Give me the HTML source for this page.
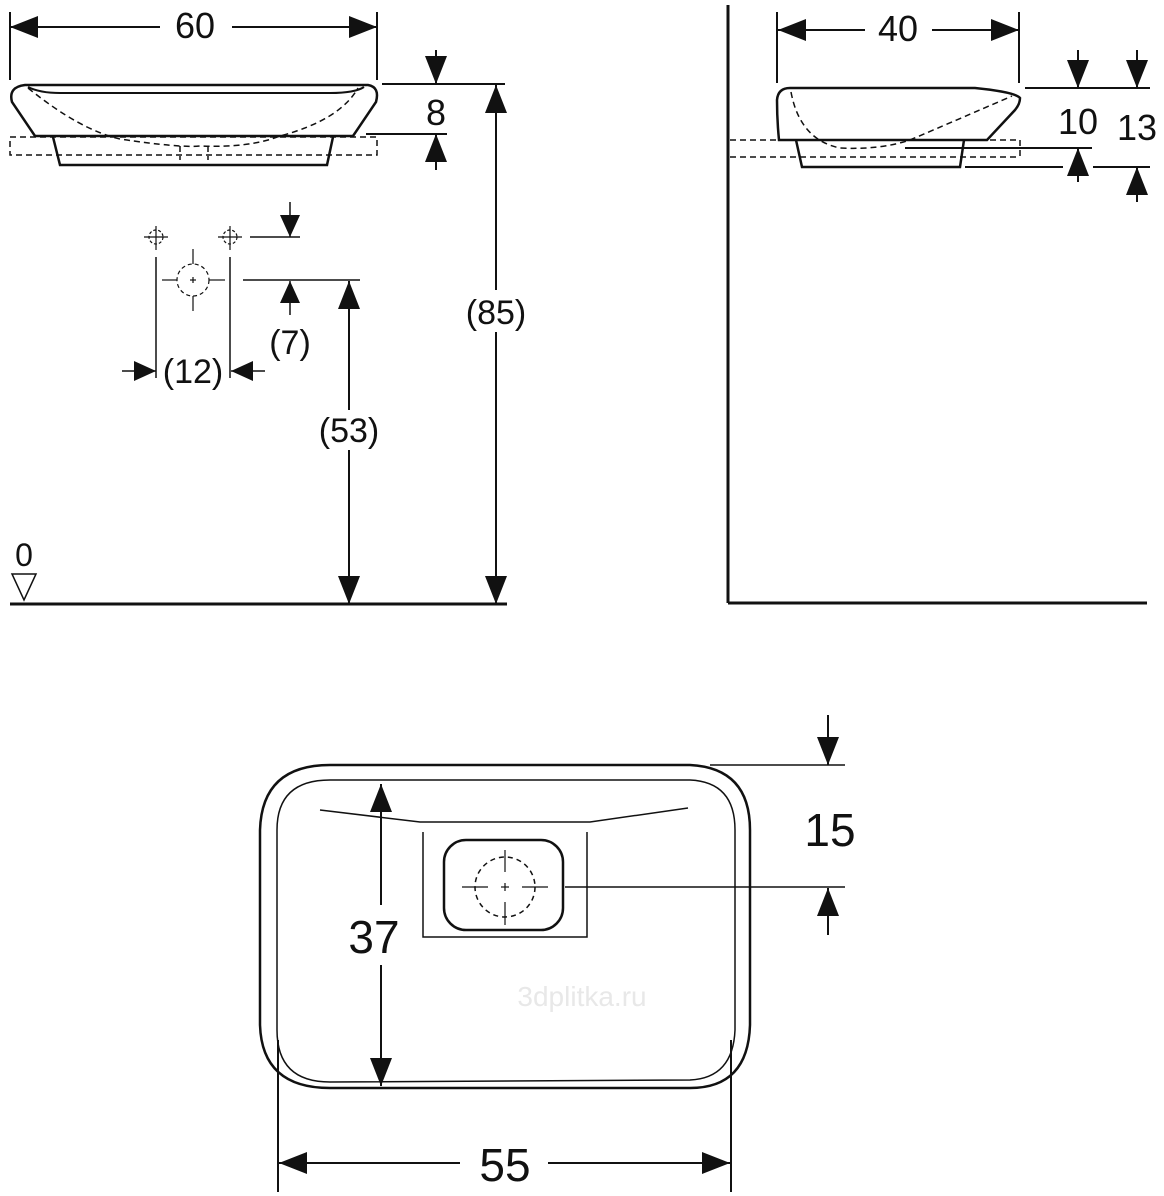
<!DOCTYPE html>
<html><head><style>body{margin:0;background:#fff}svg{display:block}text{font-family:"Liberation Sans",sans-serif;fill:#111}</style></head><body>
<svg width="1164" height="1196" viewBox="0 0 1164 1196" xmlns="http://www.w3.org/2000/svg">
<defs>
<marker id="A" viewBox="0 0 10 10" refX="10" refY="5" markerWidth="28" markerHeight="22" markerUnits="userSpaceOnUse" orient="auto" preserveAspectRatio="none"><path d="M0,0 L10,5 L0,10 z" fill="#111"/></marker>
<marker id="B" viewBox="0 0 10 10" refX="10" refY="5" markerWidth="22" markerHeight="20" markerUnits="userSpaceOnUse" orient="auto" preserveAspectRatio="none"><path d="M0,0 L10,5 L0,10 z" fill="#111"/></marker>
</defs>
<g stroke="#111" stroke-width="2" fill="none">
<line x1="10" y1="12" x2="10" y2="80"/><line x1="377" y1="12" x2="377" y2="80"/>
<line x1="38" y1="27" x2="10" y2="27" marker-end="url(#A)"/><line x1="350" y1="27" x2="377" y2="27" marker-end="url(#A)"/>
<line x1="232" y1="27" x2="350" y2="27"/><line x1="38" y1="27" x2="160" y2="27"/>
<path d="M25,85 L368,85 Q380,87 376,102 L353,136 L35,136 L12,102 Q8,87 25,85 z" stroke-width="2.5"/>
<path d="M28,87 Q40,93 60,93 L330,93 Q355,93 364,87"/>
<path d="M53,137 L60,165 L327,165 L333,137" stroke-width="2.5"/>
<g stroke-dasharray="6,4" stroke-width="1.5">
<rect x="10" y="137" width="367" height="18"/>
<path d="M28,88 Q80,130 120,139 Q180,148 200,146 Q250,148 280,136 Q340,120 358,88"/>
<line x1="180" y1="146" x2="180" y2="160"/><line x1="208" y1="146" x2="208" y2="160"/>
</g>
<line x1="382" y1="84" x2="505" y2="84"/><line x1="366" y1="134" x2="447" y2="134"/>
<line x1="436" y1="50" x2="436" y2="84" marker-end="url(#A)"/>
<line x1="436" y1="170" x2="436" y2="134" marker-end="url(#A)"/>
<line x1="496" y1="290" x2="496" y2="85" marker-end="url(#A)"/>
<line x1="496" y1="332" x2="496" y2="604" marker-end="url(#A)"/>
<line x1="10" y1="604" x2="507" y2="604" stroke-width="3"/>
<path d="M12,574 L36,574 L24,600 z" stroke-width="1.5"/>
<g stroke-width="1.2">
<line x1="144" y1="237" x2="168" y2="237"/><line x1="156" y1="226" x2="156" y2="250"/>
<line x1="218" y1="237" x2="242" y2="237"/><line x1="230" y1="226" x2="230" y2="250"/>
<circle cx="156" cy="237" r="7" stroke-dasharray="3,2"/><circle cx="230" cy="237" r="7" stroke-dasharray="3,2"/>
<circle cx="193" cy="280" r="16" stroke-dasharray="4,3"/>
<line x1="162" y1="280" x2="177" y2="280"/><line x1="209" y1="280" x2="225" y2="280"/>
<line x1="193" y1="249" x2="193" y2="264"/><line x1="193" y1="296" x2="193" y2="311"/>
<line x1="190" y1="280" x2="196" y2="280"/><line x1="193" y1="277" x2="193" y2="283"/>
</g>
<line x1="156" y1="257" x2="156" y2="378" stroke-width="1.5"/><line x1="230" y1="257" x2="230" y2="378" stroke-width="1.5"/>
<line x1="122" y1="371" x2="156" y2="371" marker-end="url(#B)" stroke-width="1.5"/>
<line x1="265" y1="371" x2="231" y2="371" marker-end="url(#B)" stroke-width="1.5"/>
<line x1="250" y1="237" x2="300" y2="237" stroke-width="1.5"/>
<line x1="243" y1="280" x2="360" y2="280" stroke-width="1.5"/>
<line x1="290" y1="202" x2="290" y2="237" marker-end="url(#B)" stroke-width="1.5"/>
<line x1="290" y1="315" x2="290" y2="281" marker-end="url(#B)" stroke-width="1.5"/>
<line x1="349" y1="410" x2="349" y2="281" marker-end="url(#A)"/>
<line x1="349" y1="450" x2="349" y2="604" marker-end="url(#A)"/>
<line x1="728" y1="5" x2="728" y2="603" stroke-width="3"/><line x1="728" y1="603" x2="1147" y2="603" stroke-width="3"/>
<line x1="777" y1="12" x2="777" y2="83"/><line x1="1019" y1="12" x2="1019" y2="83"/>
<line x1="805" y1="30" x2="778" y2="30" marker-end="url(#A)"/><line x1="992" y1="30" x2="1019" y2="30" marker-end="url(#A)"/>
<line x1="805" y1="30" x2="865" y2="30"/><line x1="932" y1="30" x2="992" y2="30"/>
<path d="M790,88 L975,88 Q1015,92 1020,98 Q1020,104 1015,110 L987,140 L779,140 Q777,120 777,100 Q778,88 790,88 z" stroke-width="2.5"/>
<path d="M796,140 L802,167 L960,167 L964,140" stroke-width="2.5"/>
<g stroke-dasharray="6,4" stroke-width="1.5">
<line x1="730" y1="140" x2="1020" y2="140"/><line x1="730" y1="157" x2="1020" y2="157"/><line x1="1020" y1="140" x2="1020" y2="157"/>
<path d="M791,92 Q800,140 840,148 Q880,150 910,140 Q980,110 1012,96"/>
</g>
<line x1="1025" y1="88" x2="1150" y2="88"/>
<line x1="905" y1="148" x2="1092" y2="148"/>
<line x1="965" y1="167" x2="1063" y2="167"/><line x1="1093" y1="167" x2="1150" y2="167"/>
<line x1="1078" y1="50" x2="1078" y2="88" marker-end="url(#A)"/>
<line x1="1137" y1="50" x2="1137" y2="88" marker-end="url(#A)"/>
<line x1="1078" y1="182" x2="1078" y2="148" marker-end="url(#A)"/>
<line x1="1137" y1="202" x2="1137" y2="167" marker-end="url(#A)"/>
<path d="M330,765 L690,765 Q750,768 750,830 L750,1025 Q748,1088 690,1088 L330,1088 Q262,1088 260,1025 L260,830 Q262,765 330,765 z" stroke-width="2.5"/>
<path d="M330,780 L690,780 Q735,782 735,830 L735,1030 Q733,1078 690,1080 L330,1082 Q277,1082 277,1030 L277,830 Q277,780 330,780 z" stroke-width="1.5"/>
<path d="M320,810 L420,822 L590,822 L688,808" stroke-width="1.5"/>
<path d="M423,832 L423,937 L587,937 L587,832" stroke-width="1.5"/>
<rect x="444" y="840" width="119" height="90" rx="22" stroke-width="2.5"/>
<circle cx="505" cy="887" r="30" stroke-dasharray="5,4" stroke-width="1.5"/>
<g stroke-width="1.2"><line x1="462" y1="887" x2="488" y2="887"/><line x1="522" y1="887" x2="548" y2="887"/><line x1="505" y1="850" x2="505" y2="872"/><line x1="505" y1="902" x2="505" y2="925"/><line x1="501" y1="887" x2="509" y2="887"/><line x1="505" y1="883" x2="505" y2="891"/></g>
<line x1="565" y1="887" x2="845" y2="887" stroke-width="1.5"/>
<line x1="710" y1="765" x2="845" y2="765" stroke-width="1.5"/>
<line x1="828" y1="715" x2="828" y2="765" marker-end="url(#A)"/>
<line x1="828" y1="935" x2="828" y2="888" marker-end="url(#A)"/>
<line x1="381" y1="905" x2="381" y2="784" marker-end="url(#A)"/>
<line x1="381" y1="965" x2="381" y2="1086" marker-end="url(#A)"/>
<line x1="278" y1="1040" x2="278" y2="1192"/><line x1="731" y1="1040" x2="731" y2="1192"/>
<line x1="460" y1="1163" x2="279" y2="1163" marker-end="url(#A)"/>
<line x1="548" y1="1163" x2="730" y2="1163" marker-end="url(#A)"/>
</g>
<text x="195" y="38" font-size="36" text-anchor="middle">60</text>
<text x="436" y="125" font-size="36" text-anchor="middle">8</text>
<text x="496" y="324" font-size="34" text-anchor="middle">(85)</text>
<text x="24" y="566" font-size="32" text-anchor="middle">0</text>
<text x="193" y="383" font-size="34" text-anchor="middle">(12)</text>
<text x="290" y="354" font-size="34" text-anchor="middle">(7)</text>
<text x="349" y="442" font-size="34" text-anchor="middle">(53)</text>
<text x="898" y="41" font-size="36" text-anchor="middle">40</text>
<text x="1078" y="134" font-size="36" text-anchor="middle">10</text>
<text x="1137" y="140" font-size="36" text-anchor="middle">13</text>
<text x="830" y="846" font-size="46" text-anchor="middle">15</text>
<text x="374" y="953" font-size="46" text-anchor="middle">37</text>
<text x="505" y="1181" font-size="46" text-anchor="middle">55</text>
<text x="582" y="1006" font-size="28" text-anchor="middle" style="fill:#e8e8e8">3dplitka.ru</text>
</svg>
</body></html>
